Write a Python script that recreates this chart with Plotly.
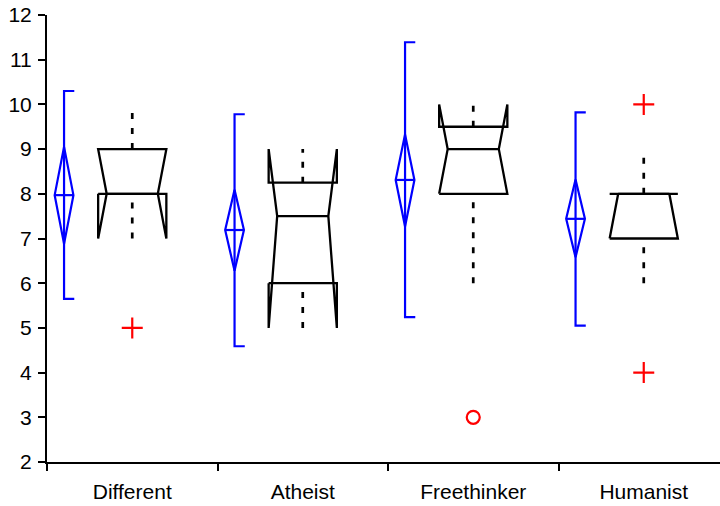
import plotly.graph_objects as go

categories = ["Different", "Atheist", "Freethinker", "Humanist"]

# blue: mean, confidence diamond, and range bracket
mean_vals = [7.97, 7.19, 8.31, 7.44]
ci_lo = [6.88, 6.28, 7.27, 6.58]
ci_hi = [9.05, 8.09, 9.33, 8.32]
range_lo = [5.65, 4.59, 5.24, 5.05]
range_hi = [10.30, 9.78, 11.39, 9.82]

# notched boxplot stats
q1 = [8, 6, 8, 7]
median = [8, 7.5, 9, 8]
q3 = [9, 8.25, 9.5, 8]
notch_lo = [7, 5, 8, 7]
notch_hi = [9, 9, 10, 8]
whisk_lo = [7, 5, 6, 6]
whisk_hi = [10, 9, 10, 9]

# outliers: (category index, value)
out_plus_cat = [0, 3, 3]
out_plus_val = [5, 10, 4]
out_circ_cat = [2]
out_circ_val = [3]

positions = [1, 2, 3, 4]

fig = go.Figure()
BLUE = "#0000ff"
BOX_HW = 0.2
NOTCH_HW = 0.15
DIA_HW = 0.055
CAP = 0.06
BLUE_OFF = -0.4

for i, p in enumerate(positions):
    b = p + BLUE_OFF
    # bracket
    fig.add_trace(go.Scatter(x=[b + CAP, b, b, b + CAP],
                             y=[range_lo[i], range_lo[i], range_hi[i], range_hi[i]],
                             mode="lines", line=dict(color=BLUE, width=2.2),
                             hoverinfo="skip", showlegend=False))
    # diamond
    fig.add_trace(go.Scatter(x=[b, b + DIA_HW, b, b - DIA_HW, b],
                             y=[ci_hi[i], mean_vals[i], ci_lo[i], mean_vals[i], ci_hi[i]],
                             mode="lines", line=dict(color=BLUE, width=2.2),
                             hoverinfo="skip", showlegend=False))
    fig.add_trace(go.Scatter(x=[b - DIA_HW, b + DIA_HW],
                             y=[mean_vals[i], mean_vals[i]],
                             mode="lines", line=dict(color=BLUE, width=2.2),
                             hoverinfo="skip", showlegend=False))
    # notched box
    L, R = p - BOX_HW, p + BOX_HW
    IL, IR = p - NOTCH_HW, p + NOTCH_HW
    fig.add_trace(go.Scatter(
        x=[L, L, IL, L, L, R, R, IR, R, R, L],
        y=[q1[i], notch_lo[i], median[i], notch_hi[i], q3[i], q3[i],
           notch_hi[i], median[i], notch_lo[i], q1[i], q1[i]],
        mode="lines", line=dict(color="black", width=2.3),
        hoverinfo="skip", showlegend=False))
    fig.add_trace(go.Scatter(x=[IL, IR], y=[median[i], median[i]],
                             mode="lines", line=dict(color="black", width=2.3),
                             hoverinfo="skip", showlegend=False))
    # whiskers (drawn low -> high)
    fig.add_trace(go.Scatter(x=[p, p], y=[whisk_lo[i], q1[i]],
                             mode="lines", line=dict(color="black", width=2.7, dash="6px,9px"),
                             hoverinfo="skip", showlegend=False))
    fig.add_trace(go.Scatter(x=[p, p], y=[q3[i], whisk_hi[i]],
                             mode="lines", line=dict(color="black", width=2.7, dash="6px,9px"),
                             hoverinfo="skip", showlegend=False))

fig.add_trace(go.Scatter(x=[positions[c] for c in out_plus_cat], y=out_plus_val,
                         mode="markers",
                         marker=dict(symbol="cross-thin-open", size=15,
                                     line=dict(color="red", width=2.2), color="red"),
                         hoverinfo="skip", showlegend=False))
fig.add_trace(go.Scatter(x=[positions[c] for c in out_circ_cat], y=out_circ_val,
                         mode="markers",
                         marker=dict(symbol="circle-open", size=13,
                                     line=dict(color="red", width=2.2), color="red"),
                         hoverinfo="skip", showlegend=False))

fig.update_layout(
    width=720, height=506,
    margin=dict(l=47, r=0, t=15, b=44),
    paper_bgcolor="white", plot_bgcolor="white",
    font=dict(family="Liberation Sans, Arial, sans-serif", size=21, color="black"),
    showlegend=False,
)
fig.update_xaxes(
    range=[0.5, 0.5 + (720 - 47) / 170.5], automargin=False,
    tickmode="array", tickvals=positions, ticktext=categories,
    ticks="", showline=True, linewidth=2, linecolor="black",
    showgrid=False, zeroline=False, ticklabelstandoff=10,
    tickfont=dict(size=21),
    minor=dict(tickmode="array", tickvals=[0.5, 1.5, 2.5, 3.5], ticks="outside",
               ticklen=7, tickwidth=2, tickcolor="black", showgrid=False),
)
fig.update_yaxes(
    range=[2, 12], tickmode="linear", tick0=2, dtick=1, automargin=False,
    ticks="outside", ticklen=7, tickwidth=2, tickcolor="black",
    showline=True, linewidth=2, linecolor="black",
    showgrid=False, zeroline=False, tickfont=dict(size=21),
    ticklabelstandoff=2,
)

# remove the page's default 8px body margin so the figure fills the window
fig.write_html("out.html",
               config={"displayModeBar": False, "staticPlot": True},
               post_script="document.body.style.margin='0px';document.body.style.overflow='hidden';")
